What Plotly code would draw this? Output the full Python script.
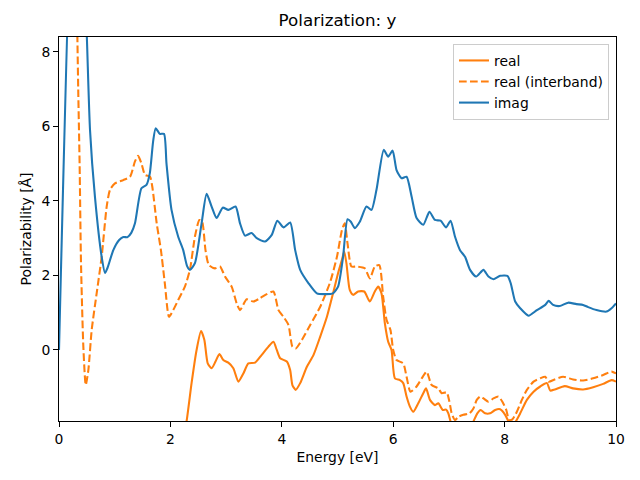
import plotly.graph_objects as go

# ---- data ----
imag_x = [0.0, 0.32, 0.50, 0.557, 0.646, 0.766, 0.826, 0.87, 0.975, 1.08, 1.155, 1.23, 1.30, 1.364,
          1.48, 1.57, 1.63, 1.69, 1.736, 1.81, 1.885, 1.93, 2.02, 2.14, 2.23, 2.30, 2.35, 2.44,
          2.56, 2.65, 2.74, 2.83, 2.94, 3.04, 3.17, 3.25, 3.34, 3.46, 3.55, 3.70, 3.82, 3.92,
          4.03, 4.15, 4.24, 4.33, 4.48, 4.63, 4.78, 4.92, 5.01, 5.10, 5.18, 5.24, 5.31, 5.40,
          5.52, 5.61, 5.70, 5.83, 5.91, 5.99, 6.06, 6.15, 6.24, 6.33, 6.42, 6.54, 6.65, 6.75,
          6.85, 6.95, 7.03, 7.11, 7.20, 7.29, 7.38, 7.49, 7.62, 7.71, 7.80, 7.92, 8.05, 8.11,
          8.19, 8.28, 8.43, 8.58, 8.73, 8.79, 8.87, 8.99, 9.14, 9.29, 9.41, 9.50, 9.65, 9.83,
          9.92, 10.0]
imag_y = [0.0, 16.0, 8.4, 5.9, 4.1, 2.5, 2.07, 2.2, 2.68, 2.95, 3.03, 3.03, 3.15, 3.4,
          4.34, 4.43, 4.74, 5.6, 5.95, 5.8, 5.8, 5.0, 3.76, 3.04, 2.68, 2.25, 2.15, 2.33,
          3.4, 4.19, 3.85, 3.54, 3.82, 3.76, 3.85, 3.4, 3.07, 3.14, 3.0, 2.91, 3.09, 3.47,
          3.29, 3.42, 2.68, 2.15, 1.79, 1.52, 1.50, 1.52, 1.70, 2.50, 3.51, 3.44, 3.27, 3.44,
          3.85, 3.76, 4.30, 5.37, 5.19, 5.35, 4.83, 4.61, 4.65, 4.12, 3.54, 3.36, 3.71, 3.49,
          3.47, 3.29, 3.47, 3.04, 2.68, 2.50, 2.15, 1.97, 2.15, 1.97, 1.90, 1.99, 1.99, 1.79,
          1.30, 1.12, 0.92, 1.07, 1.21, 1.32, 1.21, 1.18, 1.27, 1.23, 1.21, 1.15, 1.07, 1.03,
          1.12, 1.25]

inter_x = [0.25, 0.32, 0.345, 0.37, 0.395, 0.437, 0.48, 0.527, 0.587, 0.676, 0.766, 0.856, 0.916,
           1.005, 1.155, 1.275, 1.364, 1.42, 1.48, 1.544, 1.634, 1.675, 1.754, 1.83, 1.90, 1.975,
           2.05, 2.14, 2.26, 2.35, 2.44, 2.52, 2.57, 2.63, 2.69, 2.80, 2.89, 2.98, 3.10, 3.19,
           3.25, 3.37, 3.49, 3.61, 3.73, 3.85, 3.94, 4.03, 4.12, 4.19, 4.25, 4.36, 4.51, 4.69,
           4.87, 4.99, 5.08, 5.13, 5.18, 5.25, 5.34, 5.49, 5.58, 5.67, 5.75, 5.82, 5.88, 5.95,
           6.00, 6.06, 6.18, 6.24, 6.31, 6.42, 6.53, 6.60, 6.69, 6.81, 6.87, 6.96, 7.01, 7.05,
           7.11, 7.17, 7.26, 7.37, 7.44, 7.50, 7.56, 7.62, 7.71, 7.80, 7.89, 7.96, 8.03, 8.08,
           8.14, 8.22, 8.31, 8.40, 8.52, 8.64, 8.73, 8.79, 8.90, 9.05, 9.23, 9.41, 9.59, 9.77,
           9.92, 10.0]
inter_y = [25.0, 9.5, 7.0, 5.0, 2.33, 0.09, -0.94, -0.54, 0.54, 1.52, 2.50, 3.85, 4.30,
           4.47, 4.56, 4.65, 5.06, 5.21, 5.01, 4.70, 4.65, 4.38, 3.40, 2.68, 1.79, 0.89,
           1.07, 1.34, 1.70, 2.15, 3.04, 3.49, 3.44, 2.68, 2.28, 2.19, 2.24, 1.97, 1.70, 1.25,
           1.07, 1.36, 1.30, 1.39, 1.50, 1.57, 1.07, 0.89, 0.67, 0.09, 0.04, 0.27, 0.67, 1.16,
           1.83, 2.50, 3.22, 3.40, 2.86, 2.24, 2.24, 2.19, 1.92, 2.24, 2.28, 1.43, 0.81, 0.54,
           0.0, -0.27, -0.36, -0.72, -1.12, -0.98, -0.72, -0.58, -0.94, -1.03, -1.16, -1.14, -1.39, -1.70,
           -1.88, -1.79, -1.74, -1.70, -1.57, -1.34, -1.25, -1.30, -1.39, -1.30, -1.25, -1.39, -1.61, -1.88,
           -1.86, -1.66, -1.34, -1.07, -0.85, -0.76, -0.72, -0.85, -0.79, -0.72, -0.79, -0.82, -0.76, -0.67,
           -0.58, -0.63]

real_x = [1.8, 2.1, 2.29, 2.38, 2.47, 2.55, 2.61, 2.67, 2.74, 2.81, 2.88, 2.95, 3.04, 3.13,
          3.22, 3.31, 3.40, 3.52, 3.64, 3.76, 3.85, 3.91, 3.97, 4.09, 4.15, 4.19, 4.25, 4.33,
          4.45, 4.57, 4.69, 4.81, 4.92, 5.01, 5.08, 5.12, 5.16, 5.22, 5.28, 5.37, 5.48, 5.58,
          5.67, 5.73, 5.79, 5.85, 5.91, 5.97, 6.03, 6.12, 6.18, 6.24, 6.30, 6.36, 6.45, 6.54,
          6.59, 6.66, 6.75, 6.81, 6.89, 6.95, 6.99, 7.03, 7.10, 7.25, 7.38, 7.44, 7.51, 7.57,
          7.65, 7.74, 7.83, 7.92, 8.01, 8.07, 8.13, 8.20, 8.28, 8.40, 8.52, 8.64, 8.76, 8.82,
          8.90, 9.08, 9.23, 9.41, 9.59, 9.77, 9.92, 10.0]
real_y = [-8.0, -3.5, -1.92, -0.89, 0.0, 0.51, 0.27, -0.36, -0.49, -0.31, -0.11, -0.27, -0.34, -0.49,
          -0.85, -0.63, -0.36, -0.34, -0.13, 0.09, 0.22, 0.0, -0.22, -0.31, -0.54, -0.94, -1.07, -0.89,
          -0.45, -0.13, 0.36, 0.89, 1.52, 2.06, 2.42, 2.64, 2.33, 1.61, 1.48, 1.57, 1.57, 1.30,
          1.57, 1.70, 1.52, 0.72, 0.22, 0.0, -0.76, -0.81, -0.89, -1.25, -1.52, -1.66, -1.43, -1.16,
          -1.03, -1.34, -1.48, -1.43, -1.61, -1.60, -1.70, -1.92, -2.2, -2.3, -2.1, -1.92, -1.70, -1.61,
          -1.70, -1.70, -1.61, -1.59, -1.74, -1.92, -2.05, -1.92, -1.70, -1.34, -1.12, -0.98, -0.89, -1.09,
          -1.06, -0.97, -1.03, -1.06, -1.00, -0.91, -0.81, -0.85]

x_ticks = [0, 2, 4, 6, 8, 10]
y_ticks = [0, 2, 4, 6, 8]

ORANGE = "#ff7f0e"
BLUE = "#1f77b4"
FONT = "DejaVu Sans"
LW = 2.08
OFF = 8  # page body margin offset

fig = go.Figure()
fig.add_trace(go.Scatter(x=real_x, y=real_y, mode="lines", name="real",
                         line=dict(color=ORANGE, width=LW, shape="spline", smoothing=0.6)))
fig.add_trace(go.Scatter(x=inter_x, y=inter_y, mode="lines", name="real (interband)",
                         line=dict(color=ORANGE, width=LW, dash="7.7px,3.3px", shape="spline", smoothing=0.6)))
fig.add_trace(go.Scatter(x=imag_x, y=imag_y, mode="lines", name="imag",
                         line=dict(color=BLUE, width=LW, shape="spline", smoothing=0.6)))

axis_common = dict(showgrid=False, zeroline=False, showline=True, linecolor="black", linewidth=1.1,
                   mirror=True, ticks="outside", ticklen=4.9, tickwidth=1.1, tickcolor="black",
                   tickfont=dict(family=FONT, size=13.9, color="black"), automargin=False)

L, R, T, B = 59 - OFF, 616 - OFF, 37 - OFF, 421 - OFF

fig.update_layout(
    width=640, height=480,
    margin=dict(l=L, r=640 - R, t=T, b=480 - B),
    paper_bgcolor="white", plot_bgcolor="white",
    font=dict(family=FONT, size=13.9, color="black"),
    title=dict(text="Polarization: y", x=(L + R) / 2 / 640, xanchor="center",
               y=1 - (20 - OFF) / 480, yanchor="middle", font=dict(family=FONT, size=16.7, color="black")),
    xaxis=dict(range=[0, 10], tickvals=x_ticks,
               title=dict(text="Energy [eV]", standoff=6, font=dict(family=FONT, size=13.9)),
               **axis_common),
    yaxis=dict(range=[-1.906, 8.40], tickvals=y_ticks,
               title=dict(text="Polarizability [Å]", standoff=6, font=dict(family=FONT, size=13.9)),
               **axis_common),
    legend=dict(x=0.9874, xanchor="right", y=0.982, yanchor="top",
                bgcolor="rgba(255,255,255,0.8)", bordercolor="#cccccc", borderwidth=1,
                font=dict(family=FONT, size=13.9, color="black"), itemwidth=30),
    showlegend=True,
)

fig.write_html("out.html")
